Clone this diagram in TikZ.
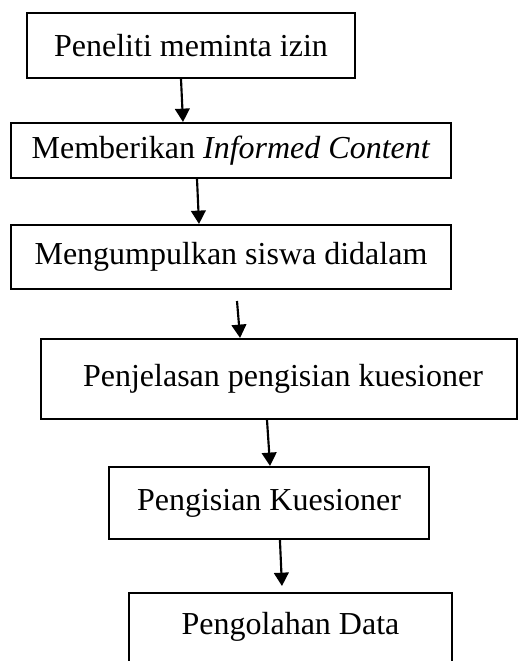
\documentclass[tikz,border=0pt]{standalone}
\usepackage{fontspec}
\setmainfont{Liberation Serif}
\usetikzlibrary{arrows.meta}
\tikzset{
  stepbox/.style={draw, line width=0.8pt, font=\fontsize{12}{14}\selectfont, inner sep=3pt},
  flow/.style={-{Triangle[length=5pt,width=5.5pt]}, line width=0.8pt}
}
\begin{document}
\begin{tikzpicture}[x=0.375pt,y=-0.375pt]
\clip (0,0) rectangle (518,661);

\node[stepbox, minimum width=123pt, minimum height=24.4pt] (izin) at (191,45.5) {Peneliti meminta izin};
\node[stepbox, minimum width=165pt, minimum height=20.6pt] (consent) at (231,150.5) {Memberikan \textit{Informed Content}};
\node[stepbox, minimum width=165pt, minimum height=24pt] (kumpul) at (231,257) {Mengumpulkan siswa didalam};
\node[stepbox, minimum width=178.5pt, minimum height=30pt] (jelas) at (279,379) {\hspace*{3pt}Penjelasan pengisian kuesioner};
\node[stepbox, minimum width=120pt, minimum height=27pt] (isi) at (269,503) {Pengisian Kuesioner};
\node[stepbox, anchor=north, minimum width=121pt, inner ysep=0pt, text height=15.4pt, text depth=15pt] (olah) at (290.5,592) {Pengolahan Data};

\draw[flow] ([xshift=-3.75pt]izin.south) -- ([xshift=-18pt]consent.north);
\draw[flow] ([xshift=-12.75pt]consent.south) -- ([xshift=-12pt]kumpul.north);
\draw[flow] ([xshift=2.25pt,yshift=-4.1pt]kumpul.south) -- ([xshift=-14.6pt]jelas.north);
\draw[flow] ([xshift=-4.5pt]jelas.south) -- ([xshift=0.4pt]isi.north);
\draw[flow] ([xshift=4.1pt]isi.south) -- ([xshift=-3.2pt,yshift=2.25pt]olah.north);
\end{tikzpicture}
\end{document}
